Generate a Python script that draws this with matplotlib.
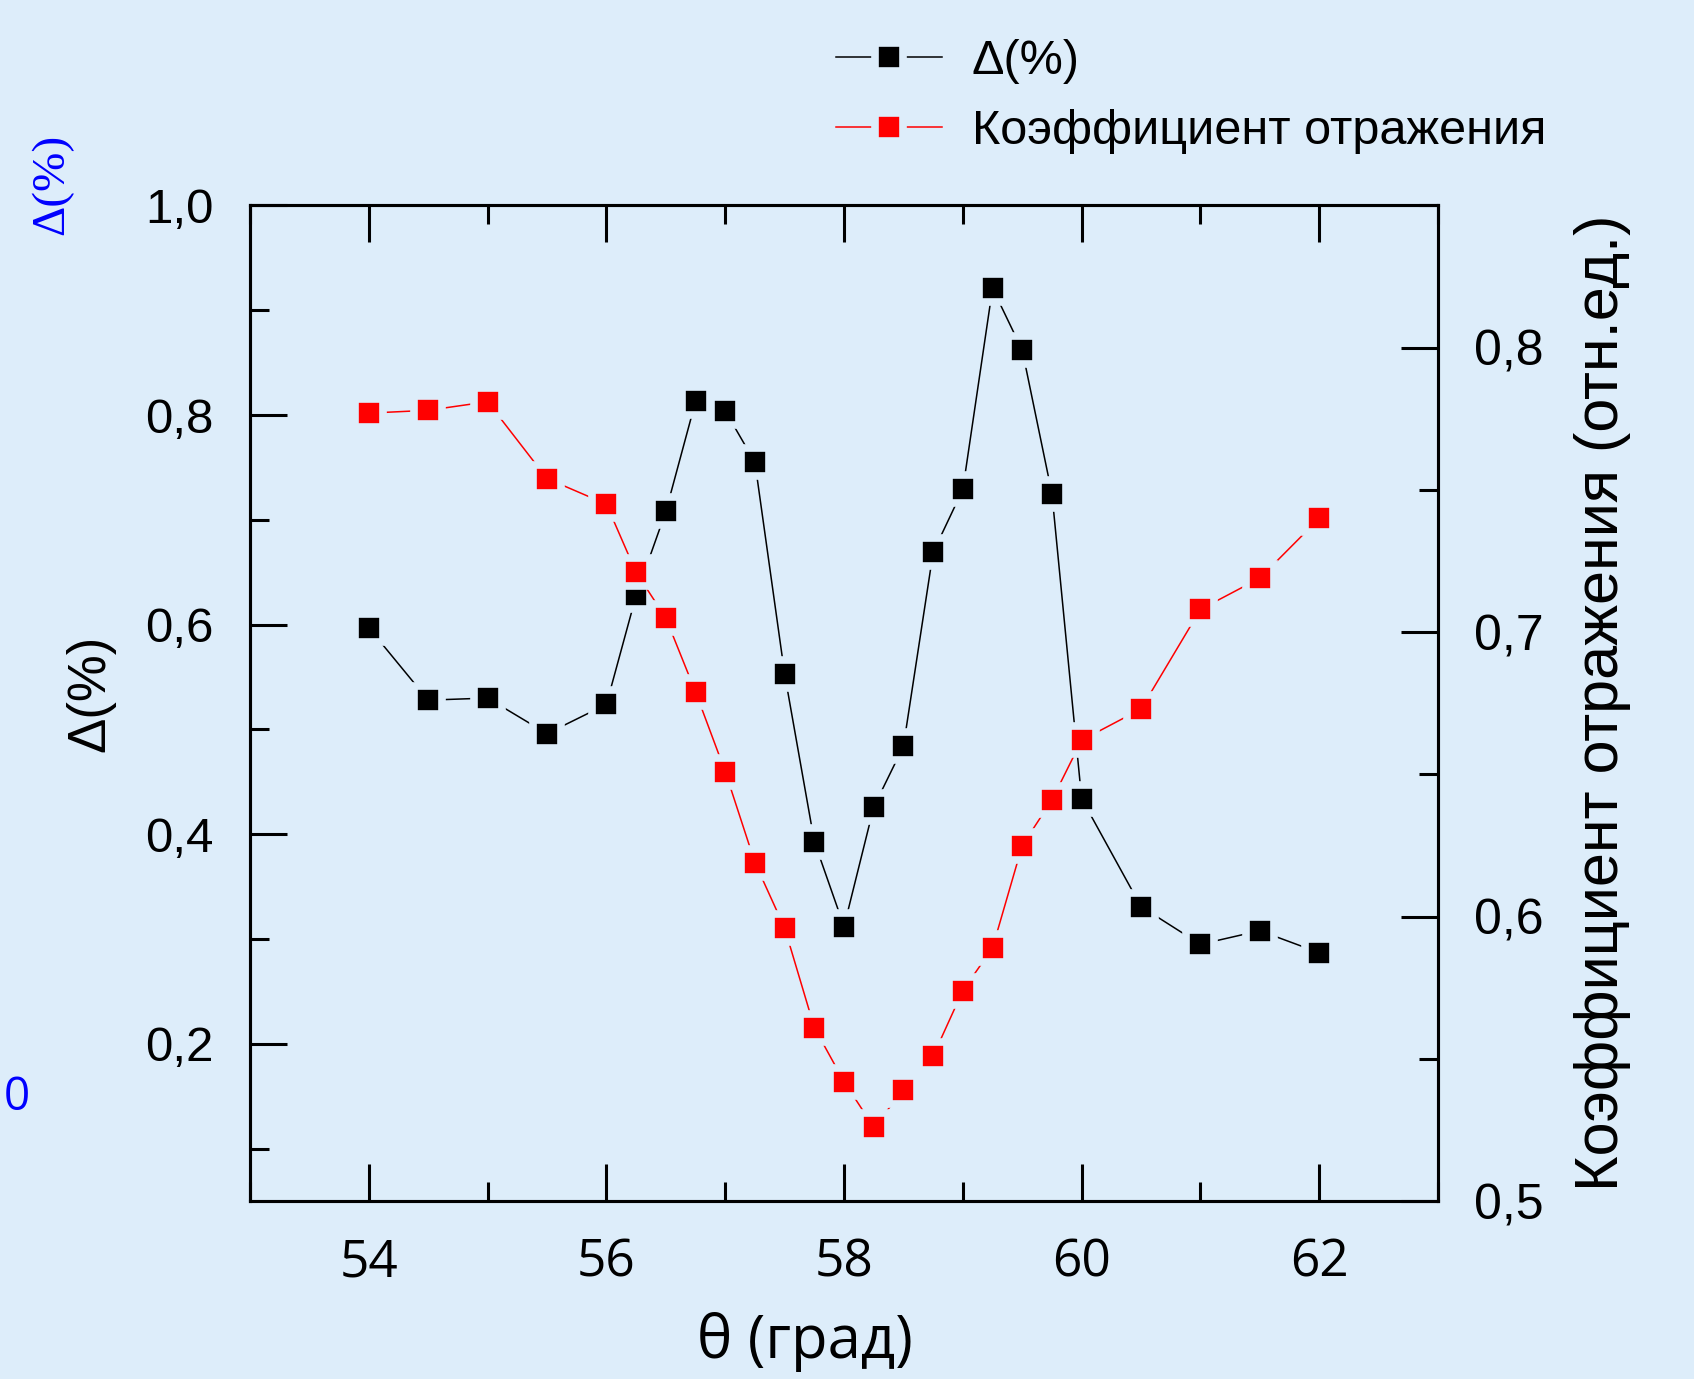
import numpy as np
import matplotlib.pyplot as plt
from matplotlib.ticker import MultipleLocator, FuncFormatter

# Data
theta = [54, 54.5, 55, 55.5, 56, 56.25, 56.5, 56.75, 57, 57.25, 57.5, 57.75, 58,
         58.25, 58.5, 58.75, 59, 59.25, 59.5, 59.75, 60, 60.5, 61, 61.5, 62]
delta = [0.597, 0.528, 0.530, 0.496, 0.524, 0.628, 0.708, 0.813, 0.804, 0.755,
         0.553, 0.393, 0.312, 0.426, 0.484, 0.669, 0.729, 0.921, 0.862, 0.725,
         0.434, 0.331, 0.295, 0.308, 0.287]
refl = [0.777, 0.778, 0.781, 0.754, 0.745, 0.721, 0.705, 0.679, 0.651, 0.619,
        0.596, 0.561, 0.542, 0.526, 0.539, 0.551, 0.574, 0.589, 0.625, 0.641,
        0.662, 0.673, 0.708, 0.719, 0.740]

bg = '#DDEDFA'
plt.rcParams['font.family'] = ['Liberation Sans', 'DejaVu Sans']

fig = plt.figure(figsize=(16.94, 13.79), dpi=100, facecolor=bg)
ax = fig.add_axes([0.1476, 0.129, 0.7013, 0.722], facecolor=bg)
ax2 = ax.twinx()

ms, mew = 20.5, 5.5
l1, = ax.plot(theta, delta, color='black', lw=1.1, marker='s', ms=ms,
              mfc='black', mec=bg, mew=mew, label='Δ(%)', zorder=3)
l2, = ax2.plot(theta, refl, color='red', lw=1.1, marker='s', ms=ms,
               mfc='red', mec=bg, mew=mew, label='Коэффициент отражения', zorder=3)

comma = FuncFormatter(lambda v, p: f'{v:.1f}'.replace('.', ','))

ax.set_xlim(53, 63)
ax.set_ylim(0.05, 1.0)
ax.xaxis.set_major_locator(MultipleLocator(2))
ax.xaxis.set_minor_locator(MultipleLocator(1))
ax.yaxis.set_major_locator(MultipleLocator(0.2))
ax.yaxis.set_minor_locator(MultipleLocator(0.1))
ax.yaxis.set_major_formatter(comma)
ax.tick_params(which='both', direction='in', width=2.2, top=True, right=False)
ax.tick_params(which='major', length=26.5)
ax.tick_params(which='minor', length=13.5)
ax.tick_params(axis='x', pad=26, labelsize=37)
ax.tick_params(axis='y', pad=26, labelsize=35.5)
for lab in ax.get_xticklabels():
    lab.set_family('Open Sans')

ax2.set_ylim(0.5, 0.85)
ax2.yaxis.set_major_locator(MultipleLocator(0.1))
ax2.yaxis.set_minor_locator(MultipleLocator(0.05))
ax2.yaxis.set_major_formatter(comma)
ax2.tick_params(which='both', direction='in', width=2.2, pad=26, labelsize=36)
ax2.tick_params(which='major', length=26.5)
ax2.tick_params(which='minor', length=13.5)

for a in (ax, ax2):
    for s in a.spines.values():
        s.set_linewidth(2.2)

ax.set_xlabel('θ (град)', fontsize=43, family='Open Sans')
ax.xaxis.set_label_coords(0.467, -0.111)
ax.set_ylabel('Δ(%)', fontsize=38)
ax.yaxis.set_label_coords(-0.1136, 0.51)
ax2.set_ylabel('Коэффициент отражения (отн.ед.)', fontsize=44)
ax2.yaxis.set_label_coords(1.1145, 0.5)

fig.legend(handles=[l1, l2], loc='upper left', bbox_to_anchor=(0.476, 0.993),
           frameon=False, fontsize=35, handlelength=2.2, handletextpad=0.6,
           labelspacing=0.52, borderpad=0.1)

# stray blue text fragments at the left edge
fig.text(0.0307, 0.866, 'Δ(%)', color='blue', rotation=90, fontsize=34,
         family='Liberation Serif', ha='center', va='center')
fig.text(0.0024, 0.204, '0', color='blue', fontsize=33, family='Open Sans',
         ha='left', va='center')

fig.savefig('out.png', dpi=100, facecolor=bg)
